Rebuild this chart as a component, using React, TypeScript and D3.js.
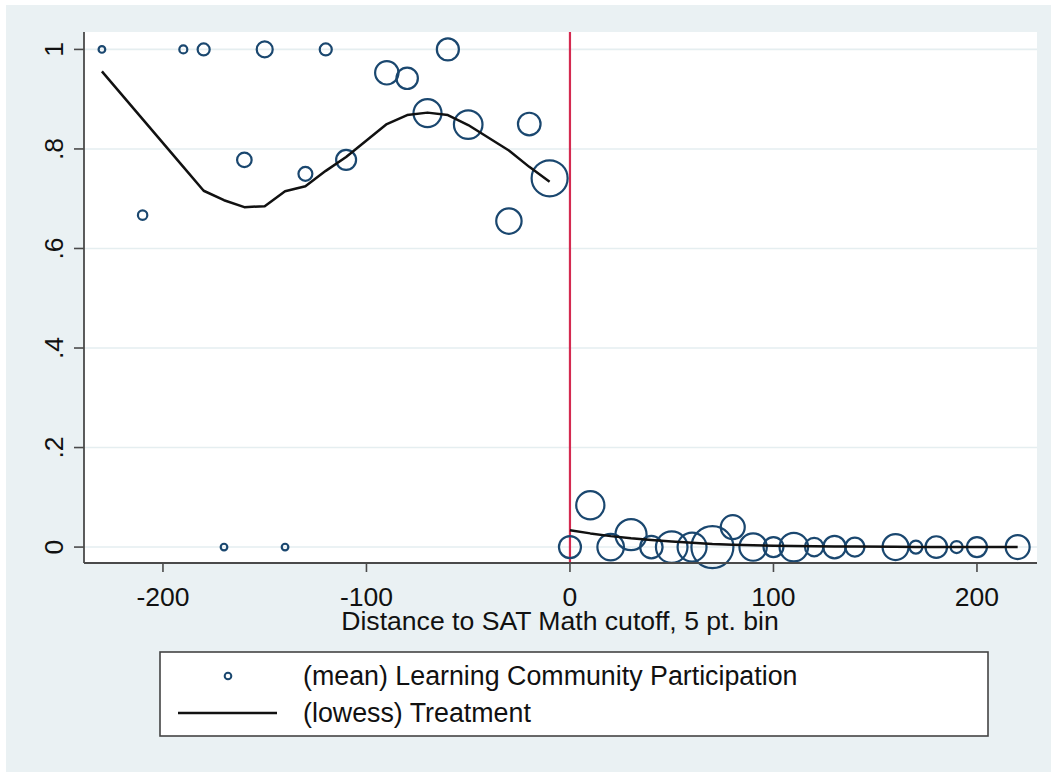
import React from "react";
import * as d3 from "d3";

// ---- data ----
const binX: number[] = [
  -230, -210, -190, -180, -170, -160, -150, -140, -130, -120, -110, -90, -80, -70, -60, -50, -30, -20, -10,
  0, 10, 20, 30, 40, 50, 60, 70, 80, 90, 100, 110, 120, 130, 140, 160, 170, 180, 190, 200, 220,
];
const meanParticipation: number[] = [
  1, 0.667, 1, 1, 0, 0.778, 1, 0, 0.75, 1, 0.778, 0.953, 0.942, 0.872, 1, 0.849, 0.655, 0.85, 0.741,
  0, 0.084, 0, 0.025, 0, 0, 0, 0, 0.04, 0, 0, 0, 0, 0, 0, 0, 0, 0, 0, 0, 0,
];
const binWeight: number[] = [
  1, 2, 1.45, 3.3, 1, 4.8, 5.8, 1, 4.4, 3.3, 9, 12.4, 10.4, 17.8, 11, 18.5, 14.6, 11.6, 29.4,
  11, 18, 16, 22, 11.4, 22.6, 19, 40, 13, 17, 9, 18.5, 7.7, 11.4, 8.2, 15.3, 3.8, 10.6, 3.3, 9, 13,
];

const lowessLeftX: number[] = [
  -230, -210, -190, -180, -170, -160, -150, -140, -130, -120, -110, -90, -80, -70, -60, -50, -30, -20, -10,
];
const lowessLeftY: number[] = [
  0.956, 0.86, 0.764, 0.716, 0.697, 0.683, 0.685, 0.715, 0.725, 0.756, 0.784, 0.85, 0.868, 0.873, 0.868, 0.848, 0.797, 0.764, 0.734,
];
const lowessRightX: number[] = [
  0, 10, 20, 30, 40, 50, 60, 70, 80, 90, 100, 110, 120, 130, 140, 160, 170, 180, 190, 200, 220,
];
const lowessRightY: number[] = [
  0.034, 0.0275, 0.022, 0.0175, 0.014, 0.011, 0.0085, 0.006, 0.0045, 0.0035, 0.0027, 0.002, 0.0015, 0.0012, 0.001, 0.0006, 0.0004, 0.0003, 0.0002, 0.0001, 0,
];

const xTicks: number[] = [-200, -100, 0, 100, 200];
const yTicks: number[] = [0, 0.2, 0.4, 0.6, 0.8, 1];
const yTickLabels: string[] = ["0", ".2", ".4", ".6", ".8", "1"];
const xTitle = "Distance to SAT Math cutoff, 5 pt. bin";
const legendLabels: string[] = ["(mean) Learning Community Participation", "(lowess) Treatment"];
const cutoff = 0;

// ---- layout ----
const W = 1051;
const H = 772;
const plot = { left: 84, right: 1037, top: 32, bottom: 563 };
const FONT = "'Liberation Sans', Arial, Helvetica, sans-serif";
const NAVY = "#1a476f";

export default function App() {
  const x = d3.scaleLinear().domain([-238.8, 229.5]).range([plot.left, plot.right]);
  const y = d3.scaleLinear().domain([-0.032, 1.035]).range([plot.bottom, plot.top]);
  const r = d3.scaleSqrt().domain([0, 40]).range([0, 21]);

  const line = d3
    .line<[number, number]>()
    .x((d) => x(d[0]))
    .y((d) => y(d[1]));
  const leftPath = line(lowessLeftX.map((v, i) => [v, lowessLeftY[i]]) as [number, number][]) || "";
  const rightPath = line(lowessRightX.map((v, i) => [v, lowessRightY[i]]) as [number, number][]) || "";

  return (
    <div style={{ position: "absolute", left: 0, top: 0, width: W, height: H, background: "#fff" }}>
      <svg width={W} height={H} style={{ display: "block" }} fontFamily={FONT}>
        <rect x={0} y={0} width={W} height={H} fill="#ffffff" />
        <rect x={6} y={5} width={W - 6} height={H - 5} fill="#eaf1f3" />
        <rect x={plot.left} y={plot.top} width={plot.right - plot.left} height={plot.bottom - plot.top} fill="#ffffff" />

        {/* gridlines */}
        {yTicks.map((t) => (
          <line key={"g" + t} x1={plot.left} x2={plot.right} y1={y(t)} y2={y(t)} stroke="#e5eef0" strokeWidth={1.6} />
        ))}

        {/* cutoff line */}
        <line x1={x(cutoff)} x2={x(cutoff)} y1={plot.top} y2={plot.bottom} stroke="#d42a50" strokeWidth={2.2} />

        {/* bubbles */}
        {binX.map((v, i) => (
          <circle
            key={"c" + i}
            cx={x(v)}
            cy={y(meanParticipation[i])}
            r={r(binWeight[i])}
            fill="none"
            stroke={NAVY}
            strokeWidth={2.2}
          />
        ))}

        {/* lowess lines */}
        <path d={leftPath} fill="none" stroke="#111" strokeWidth={2.5} strokeLinejoin="round" />
        <path d={rightPath} fill="none" stroke="#111" strokeWidth={2.5} strokeLinejoin="round" />

        {/* axes */}
        <line x1={plot.left} x2={plot.left} y1={plot.top} y2={plot.bottom} stroke="#4a4a4a" strokeWidth={1.8} />
        <line x1={plot.left} x2={plot.right} y1={plot.bottom} y2={plot.bottom} stroke="#4a4a4a" strokeWidth={1.8} />
        {yTicks.map((t, i) => (
          <g key={"yt" + t}>
            <line x1={plot.left - 10} x2={plot.left} y1={y(t)} y2={y(t)} stroke="#4a4a4a" strokeWidth={1.6} />
            <text
              transform={`translate(${63},${y(t)}) rotate(-90)`}
              textAnchor="middle"
              fontSize={26.5}
              fill="#111"
            >
              {yTickLabels[i]}
            </text>
          </g>
        ))}
        {xTicks.map((t) => (
          <g key={"xt" + t}>
            <line x1={x(t)} x2={x(t)} y1={plot.bottom} y2={plot.bottom + 9} stroke="#4a4a4a" strokeWidth={1.6} />
            <text x={x(t)} y={606} textAnchor="middle" fontSize={26.5} fill="#111">
              {t}
            </text>
          </g>
        ))}
        <text x={560} y={630} textAnchor="middle" fontSize={26.6} fill="#111">
          {xTitle}
        </text>

        {/* legend */}
        <rect x={160} y={652} width={828} height={84} fill="#ffffff" stroke="#444" strokeWidth={1.6} />
        <circle cx={228} cy={676} r={r(1)} fill="none" stroke={NAVY} strokeWidth={2} />
        <text x={303} y={685} fontSize={26.8} fill="#111">
          {legendLabels[0]}
        </text>
        <line x1={178} x2={277} y1={713} y2={713} stroke="#111" strokeWidth={2.5} />
        <text x={303} y={722} fontSize={26.8} fill="#111">
          {legendLabels[1]}
        </text>
      </svg>
    </div>
  );
}
